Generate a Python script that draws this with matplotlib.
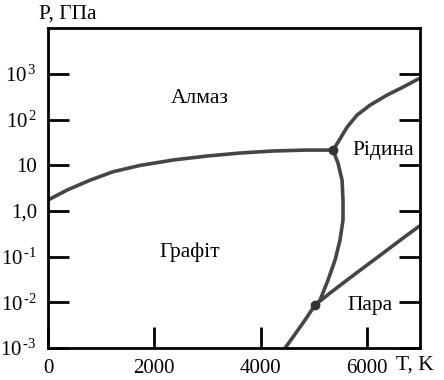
import matplotlib
matplotlib.use("Agg")
import matplotlib.pyplot as plt
import numpy as np

plt.rcParams['font.family'] = ['Liberation Serif', 'DejaVu Serif']
plt.rcParams['mathtext.fontset'] = 'custom'
plt.rcParams['mathtext.rm'] = 'Liberation Serif'
plt.rcParams['mathtext.it'] = 'Liberation Serif:italic'

# phase boundaries, T in K, P in GPa
graphite_diamond_T = [0, 358, 790, 1223, 1731, 2352, 2992, 3613, 4234, 4874, 5363]
graphite_diamond_P = [1.73, 2.86, 4.7, 7.2, 9.9, 13.0, 15.9, 18.5, 20.5, 21.5, 21.5]

diamond_liquid_T = [5363, 5457, 5627, 5815, 6060, 6380, 6680, 6963, 7000]
diamond_liquid_P = [21.5, 32, 68, 125, 207, 343, 513, 767, 790]

graphite_liquid_T = [5363, 5457, 5533, 5551, 5551, 5495, 5401, 5269, 5119, 5024, 4836, 4610, 4460]
graphite_liquid_P = [21.5, 11.1, 4.73, 1.73, 0.63, 0.231, 0.084, 0.0308, 0.0112, 0.0087, 0.0041, 0.00174, 0.001]

vapor_T = [5024, 5307, 5627, 6003, 6380, 6680, 6963, 7000]
vapor_P = [0.0087, 0.016, 0.0308, 0.0655, 0.139, 0.255, 0.444, 0.47]

triple_T = [5363, 5024]
triple_P = [21.5, 0.0087]

yticks = [1e3, 1e2, 10, 1, 0.1, 0.01, 0.001]
ytick_labels = [r'$10^{\,3}$', r'$10^{\,2}$', '10', '1,0',
                r'$10^{\,\text{-1}}$', r'$10^{\,\text{-2}}$', r'$10^{\,\text{-3}}$']
xticks = [0, 2000, 4000, 6000]
xtick_labels = ['0', '2000', '4000', '6000']

phase_names = ['Алмаз', 'Рідина', 'Графіт', 'Пара']
phase_T = [2860, 6300, 2670, 6060]
phase_P = [295, 21, 0.126, 0.0087]

fig = plt.figure(figsize=(4.44, 3.80), dpi=100)
ax = fig.add_axes([0.108, 0.084, 0.838, 0.842])

lc = '#454545'
for tt, pp in [(graphite_diamond_T, graphite_diamond_P),
               (diamond_liquid_T, diamond_liquid_P),
               (graphite_liquid_T, graphite_liquid_P),
               (vapor_T, vapor_P)]:
    ax.plot(tt, pp, color=lc, lw=2.6, solid_capstyle='round', solid_joinstyle='round')
ax.plot(triple_T, triple_P, 'o', color='#333333', ms=6)

ax.set_yscale('log')
ax.set_xlim(0, 7000)
ax.set_ylim(1e-3, 1e4)

ax.set_yticks(yticks)
ax.set_yticklabels(ytick_labels)
ax.yaxis.set_minor_locator(matplotlib.ticker.NullLocator())
ax.set_xticks(xticks)
ax.set_xticklabels(xtick_labels)

ax.tick_params(axis='y', direction='in', length=15, width=2, labelsize=15, pad=8, right=True)
ax.tick_params(axis='x', direction='in', length=15, width=2, labelsize=15, pad=8)
for s in ax.spines.values():
    s.set_linewidth(2)

for name, t, p in zip(phase_names, phase_T, phase_P):
    ax.text(t, p, name, fontsize=15.5, ha='center', va='center')

fig.text(0.153, 0.963, 'P, ГПа', fontsize=15.5, ha='center', va='center')
fig.text(0.935, 0.04, 'T, K', fontsize=15.5, ha='center', va='center')

fig.savefig('out.png', dpi=100)
